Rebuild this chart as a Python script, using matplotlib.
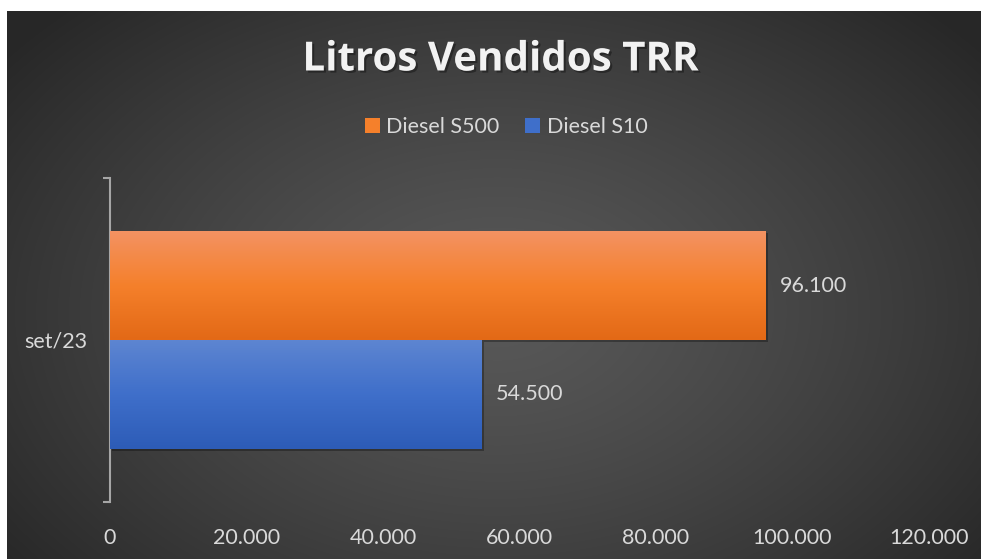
import numpy as np
import matplotlib
matplotlib.use("Agg")
import matplotlib.pyplot as plt
import matplotlib.patheffects as pe
from matplotlib.patches import Patch
from matplotlib.ticker import FuncFormatter

# data
categories = ["set/23"]
series = ["Diesel S500", "Diesel S10"]
values_s500 = [96100]
values_s10 = [54500]
xticks = [0, 20000, 40000, 60000, 80000, 100000, 120000]

# colors
orange_grad = ["#F39262", "#F5802B", "#E36916"]
blue_grad = ["#5D85D1", "#3F6FCA", "#2D5CB7"]
text_col = "#D9D9D9"
plt.rcParams["font.family"] = ["Lato", "DejaVu Sans"]

fig = plt.figure(figsize=(9.81, 5.59), dpi=100)
fig.patch.set_facecolor("white")

# background with radial gradient
bg = fig.add_axes([7 / 981, 0, 974 / 981, 548 / 559])
bg.set_axis_off()
yy, xx = np.mgrid[0:548, 0:974]
r = np.sqrt(((xx - 490) / 620.0) ** 2 + ((yy - 300) / 420.0) ** 2)
r = np.clip(r, 0, 1)
shade = 0.345 - 0.19 * r ** 1.3
bg.imshow(np.dstack([shade] * 3), aspect="auto", extent=[0, 1, 0, 1])
bg.set_xlim(0, 1)
bg.set_ylim(0, 1)

ax = fig.add_axes([110 / 981, 1 - 502 / 559, 819 / 981, 324 / 559])
ax.patch.set_alpha(0)

shadow = [pe.SimplePatchShadow(offset=(1.5, -1.5), alpha=0.3, shadow_rgbFace="black"), pe.Normal()]
h = 0.336
pos = np.arange(len(categories))
b1 = ax.barh(pos + h / 2, values_s500, height=h, color=orange_grad[1], zorder=2, path_effects=shadow)
b2 = ax.barh(pos - h / 2, values_s10, height=h, color=blue_grad[1], zorder=2, path_effects=shadow)

# vertical gradients on the bars
def grad_fill(bars, cols):
    cmap = matplotlib.colors.LinearSegmentedColormap.from_list("g", cols[::-1])
    for bar in bars:
        x0, y0 = bar.get_x(), bar.get_y()
        w, hh = bar.get_width(), bar.get_height()
        im = ax.imshow(np.linspace(0, 1, 100).reshape(-1, 1), cmap=cmap, aspect="auto",
                       extent=[x0, x0 + w, y0, y0 + hh], origin="lower", zorder=3)
        im.set_clip_path(bar)

grad_fill(b1, orange_grad)
grad_fill(b2, blue_grad)
ax.set_xlim(0, 120000)
ax.set_ylim(-0.5, 0.5)

# data labels
for bars, vals in [(b1, values_s500), (b2, values_s10)]:
    for bar, v in zip(bars, vals):
        ax.annotate(f"{v:,}".replace(",", "."), (v, bar.get_y() + bar.get_height() / 2),
                    xytext=(10, 0), textcoords="offset points", va="center", ha="left",
                    color=text_col, fontsize=15.5)

# axes styling
for s in ["top", "right", "bottom"]:
    ax.spines[s].set_visible(False)
ax.spines["left"].set_color("#A6A6A6")
ax.spines["left"].set_linewidth(1.5)
ax.set_xticks(xticks)
ax.xaxis.set_major_formatter(FuncFormatter(lambda v, p: f"{int(v):,}".replace(",", ".")))
ax.tick_params(axis="x", length=0, pad=19, labelsize=15.5, labelcolor=text_col)
ax.set_yticks(pos)
ax.set_yticklabels(categories)
ax.tick_params(axis="y", length=0, pad=16, labelsize=15.5, labelcolor=text_col)
ax.set_yticks([-0.5, 0.5], minor=True)
ax.tick_params(axis="y", which="minor", length=5, width=1.5, color="#A6A6A6", direction="out")

# title
fig.text(500 / 981, 1 - 60 / 559, "Litros Vendidos TRR", ha="center", va="center",
         fontsize=29, fontweight="bold", color="#F2F2F2", family=["Open Sans", "DejaVu Sans"],
         path_effects=[pe.withSimplePatchShadow(offset=(1.5, -1.5), alpha=0.35, shadow_rgbFace="black")])

# legend
handles = [Patch(facecolor=orange_grad[1]), Patch(facecolor=blue_grad[1])]
fig.legend(handles, series, loc="center", bbox_to_anchor=(506 / 981, 1 - 127 / 559), ncol=2,
           frameon=False, fontsize=15.5, labelcolor=text_col, handlelength=0.7, handleheight=0.7,
           handletextpad=0.3, columnspacing=1.2)

fig.savefig("out.png", dpi=100, facecolor=fig.get_facecolor())
